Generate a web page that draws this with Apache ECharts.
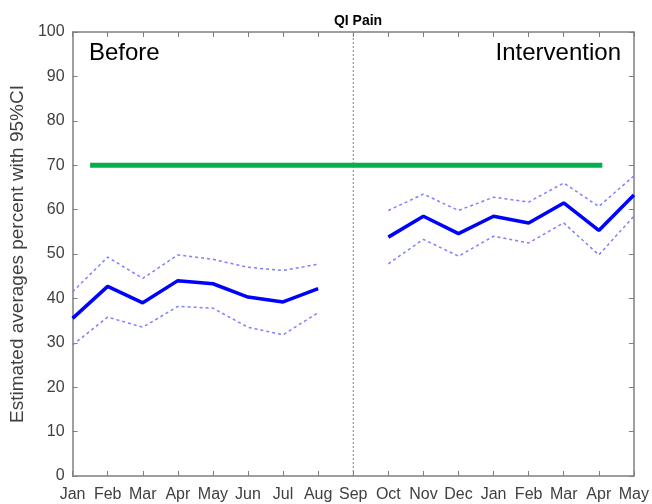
<!DOCTYPE html>
<html><head><meta charset="utf-8">
<script src="https://cdn.jsdelivr.net/npm/echarts@6/dist/echarts.min.js"></script>
<style>html,body{margin:0;padding:0;background:#fff}#c{width:652px;height:504px}</style>
</head><body><div id="c"></div>
<script>
var months = ['Jan','Feb','Mar','Apr','May','Jun','Jul','Aug','Sep','Oct','Nov','Dec','Jan','Feb','Mar','Apr','May'];
var beforeIdx = [0,1,2,3,4,5,6,7];
var beforeMean = [35.5, 42.7, 39.0, 44.0, 43.3, 40.3, 39.2, 42.2];
var beforeUpper = [41.5, 49.3, 44.5, 49.8, 48.8, 47.0, 46.3, 47.7];
var beforeLower = [29.5, 35.8, 33.5, 38.2, 37.8, 33.5, 31.8, 36.8];
var interIdx = [9,10,11,12,13,14,15,16];
var interMean = [53.8, 58.5, 54.6, 58.5, 57.0, 61.5, 55.3, 63.3];
var interUpper = [59.8, 63.5, 59.8, 62.8, 61.7, 66.0, 60.7, 67.6];
var interLower = [47.8, 53.3, 49.5, 54.0, 52.5, 57.0, 49.8, 58.5];
var targetValue = 70;
var targetRange = [0.5, 15.1];
var splitIndex = 8;
var yTicks = [0,10,20,30,40,50,60,70,80,90,100];

function pairs(idx, vals){ return idx.map(function(x,i){ return [x, vals[i]]; }); }

var chart = echarts.init(document.getElementById('c'), null, {renderer:'canvas'});
var axisCol = '#7f7f7f', labCol = '#404040';
var font = 'Liberation Sans, Arial, sans-serif';
var mainStyle = {color:'#0000ff', width:3.5};
var ciStyle = {color:'#7f7fff', width:1.5, type:[3,3]};
function line(data, style){ return {type:'line', data:data, symbol:'none', lineStyle:style, itemStyle:{color:style.color}, silent:true, animation:false, z:3}; }
var tick = {show:true, inside:true, length:5, lineStyle:{color:axisCol, width:1}};
var axLine = {show:true, onZero:false, lineStyle:{color:axisCol, width:1.5}};

chart.setOption({
  animation:false,
  title:{text:'QI Pain', left:353, top:9, textAlign:'center', textStyle:{fontFamily:font, fontSize:14, fontWeight:'bold', color:'#000'}},
  grid:{left:72, right:18, top:32, bottom:28},
  xAxis:[{
    type:'value', min:0, max:16, interval:1, position:'bottom',
    axisLine:axLine, axisTick:tick,
    axisLabel:{color:labCol, fontFamily:font, fontSize:16, margin:11, hideOverlap:false, formatter:function(v){ return months[v] || ''; }},
    splitLine:{show:false}
  },{
    type:'value', min:0, max:16, interval:1, position:'top',
    axisLine:axLine, axisTick:tick,
    axisLabel:{show:false}, splitLine:{show:false}
  }],
  yAxis:[{
    type:'value', min:0, max:100, interval:10, position:'left',
    name:'Estimated averages percent with 95%CI', nameLocation:'middle', nameGap:42,
    nameTextStyle:{color:labCol, fontFamily:font, fontSize:19},
    axisLine:axLine, axisTick:tick,
    axisLabel:{color:labCol, fontFamily:font, fontSize:16, margin:8, formatter:function(v){ return yTicks.indexOf(v)>=0 ? String(v) : ''; }},
    splitLine:{show:false}
  },{
    type:'value', min:0, max:100, interval:10, position:'right',
    axisLine:axLine, axisTick:tick,
    axisLabel:{show:false}, splitLine:{show:false}
  }],
  series:[
    {type:'line', xAxisIndex:1, yAxisIndex:1, data:[[0,0],[16,100]], symbol:'none', lineStyle:{opacity:0}, silent:true, z:0},
    {type:'line', data:[[splitIndex,0],[splitIndex,100]], symbol:'none', lineStyle:{color:'#808080', width:1, type:[2,2]}, silent:true, z:2},
    {type:'line', data:[[targetRange[0],targetValue],[targetRange[1],targetValue]], symbol:'none', lineStyle:{color:'#00b050', width:5}, silent:true, z:4},
    line(pairs(beforeIdx, beforeUpper), ciStyle),
    line(pairs(beforeIdx, beforeLower), ciStyle),
    line(pairs(beforeIdx, beforeMean), mainStyle),
    line(pairs(interIdx, interUpper), ciStyle),
    line(pairs(interIdx, interLower), ciStyle),
    line(pairs(interIdx, interMean), mainStyle)
  ],
  graphic:[
    {type:'text', left:89, top:41, style:{text:'Before', fontFamily:font, fontSize:24, fill:'#000'}},
    {type:'text', right:31, top:41, style:{text:'Intervention', fontFamily:font, fontSize:24, fill:'#000'}}
  ]
});
</script></body></html>
